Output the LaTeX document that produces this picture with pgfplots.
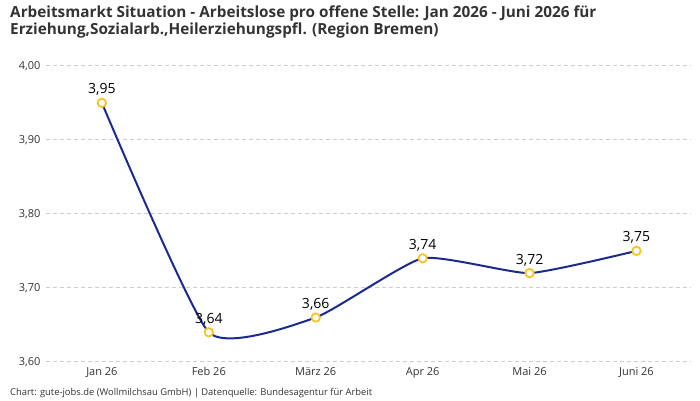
\documentclass[border=0pt]{standalone}
\usepackage{fontspec}
\setmainfont{Open Sans}
\newfontfamily\plex{Open Sans}
\usepackage{pgfplots}
\pgfplotsset{compat=1.18}
\definecolor{linec}{HTML}{1B2A8E}
\definecolor{markc}{HTML}{F7C325}
\definecolor{gridc}{HTML}{CCCCCC}
\definecolor{txt}{HTML}{333333}
\begin{document}
\begin{tikzpicture}[x=1pt,y=1pt]
\useasboundingbox (0,0) rectangle (700,400);
\node[anchor=west,inner sep=0,font=\plex\bfseries\fontsize{15.3}{18}\selectfont,text=txt] at (10,387) {Arbeitsmarkt Situation - Arbeitslose pro offene Stelle: Jan 2026 - Juni 2026 für};
\node[anchor=west,inner sep=0,font=\plex\bfseries\fontsize{15.3}{18}\selectfont,text=txt] at (10,370) {Erziehung,Sozialarb.,Heilerziehungspfl. (Region Bremen)};
\node[anchor=west,inner sep=0,font=\fontsize{9.4}{11}\selectfont,text=txt] at (10,6.5) {Chart: gute-jobs.de (Wollmilchsau GmbH) | Datenquelle: Bundesagentur für Arbeit};
\begin{axis}[
  at={(43,51.5)}, anchor=south west,
  width=645, height=296, scale only axis,
  xmin=-0.523, xmax=5.51, ymin=3.6, ymax=4.0,
  axis line style={draw=none},
  tick style={draw=none},
  xtick={0,1,2,3,4,5},
  xticklabels={Jan 26,Feb 26,März 26,Apr 26,Mai 26,Juni 26},
  ytick={3.6,3.7,3.8,3.9,4.0},
  ymajorgrids,
  grid style={gridc, line width=0.8pt, dash pattern=on 4pt off 3pt},
  yticklabel style={/pgf/number format/use comma, /pgf/number format/fixed, /pgf/number format/fixed zerofill, /pgf/number format/precision=2, /pgf/number format/assume math mode=true, xshift=-2pt},
  tick label style={font=\fontsize{11}{13}\selectfont, text=txt},
  xticklabel style={yshift=-2pt},
  clip=false,
]
\addplot[linec, line width=2pt, smooth, tension=0.3,
  mark=*, mark size=4.2pt, mark options={draw=markc, fill=white, line width=1.8pt},
  nodes near coords,
  point meta=y,
  every node near coord/.append style={font=\plex\fontsize{14}{16}\selectfont, text=black, yshift=3pt, /pgf/number format/use comma, /pgf/number format/fixed, /pgf/number format/fixed zerofill, /pgf/number format/precision=2, /pgf/number format/assume math mode=true},
] coordinates {(0,3.95) (1,3.64) (2,3.66) (3,3.74) (4,3.72) (5,3.75)};
\end{axis}
\end{tikzpicture}
\end{document}
